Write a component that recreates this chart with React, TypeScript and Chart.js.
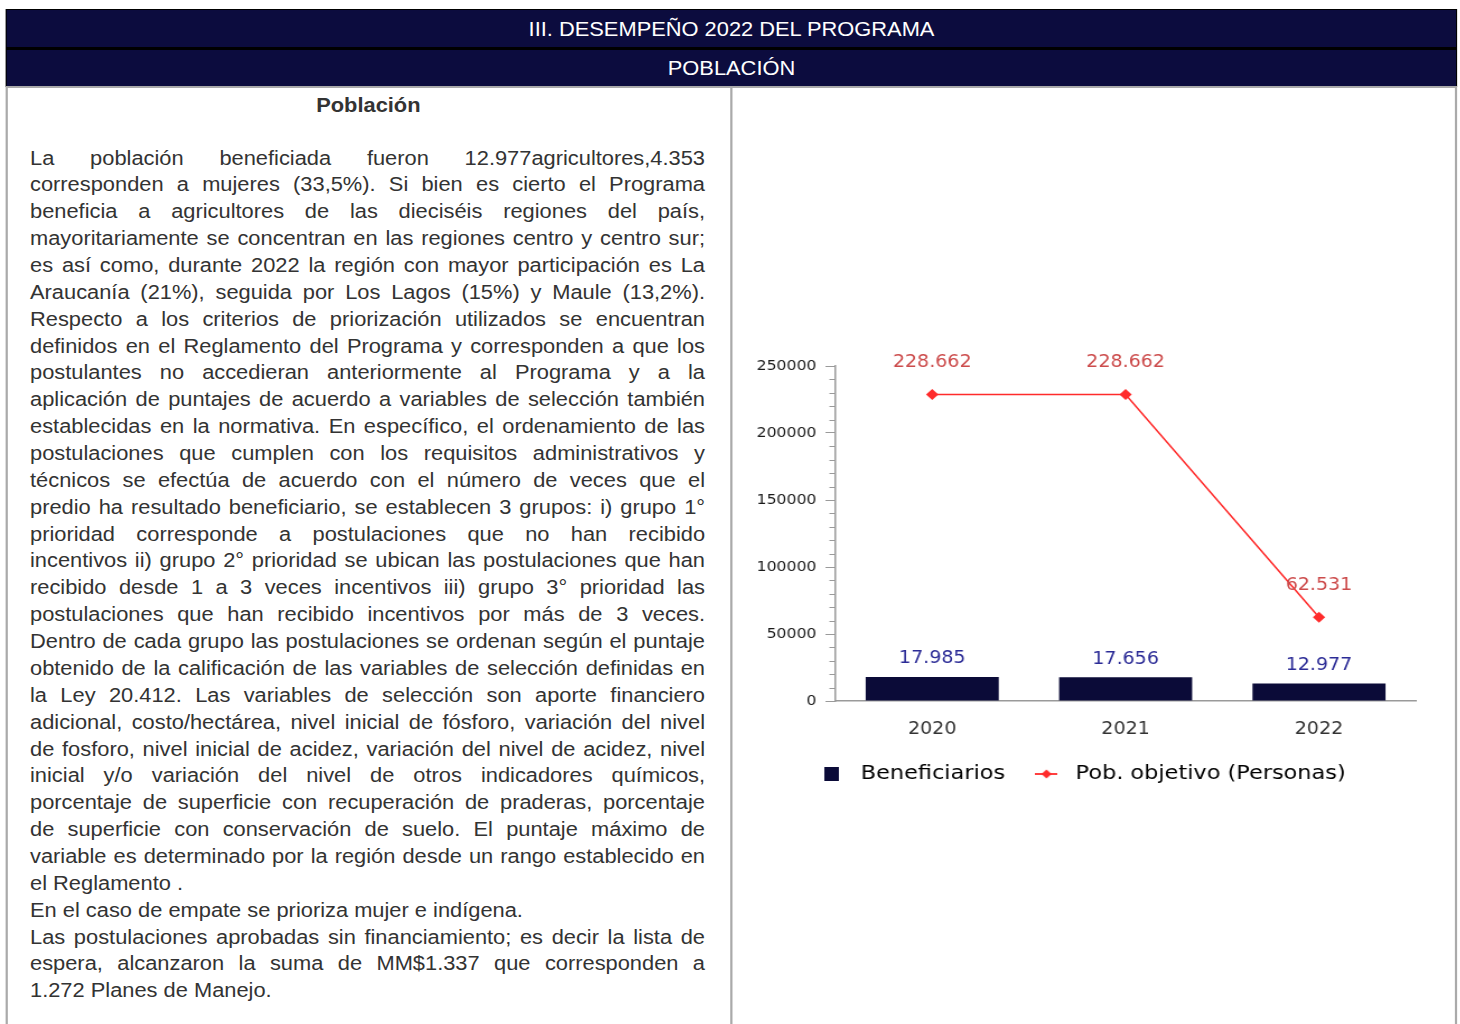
import React, { useEffect, useRef } from 'react';
import { Chart, registerables } from 'chart.js';

Chart.register(...registerables);

// ---------- data ----------
const categories = ['2020', '2021', '2022'];
const seriesNames = ['Beneficiarios', 'Pob. objetivo (Personas)'];
const beneficiarios = [17985, 17656, 12977];
const pobObjetivo = [228662, 228662, 62531];
const yMax = 250000;
const yMajorStep = 50000;
const yMinorStep = 10000;

const headerTitle = 'III. DESEMPEÑO 2022 DEL PROGRAMA';
const headerSub = 'POBLACIÓN';
const sectionTitle = 'Población';

const paragraphs: string[][] = [
  [
    'La población beneficiada fueron 12.977agricultores,4.353',
    'corresponden a mujeres (33,5%). Si bien es cierto el Programa',
    'beneficia a agricultores de las dieciséis regiones del país,',
    'mayoritariamente se concentran en las regiones centro y centro sur;',
    'es así como, durante 2022 la región con mayor participación es La',
    'Araucanía (21%), seguida por Los Lagos (15%) y Maule (13,2%).',
    'Respecto a los criterios de priorización utilizados se encuentran',
    'definidos en el Reglamento del Programa y corresponden a que los',
    'postulantes no accedieran anteriormente al Programa y a la',
    'aplicación de puntajes de acuerdo a variables de selección también',
    'establecidas en la normativa. En específico, el ordenamiento de las',
    'postulaciones que cumplen con los requisitos administrativos y',
    'técnicos se efectúa de acuerdo con el número de veces que el',
    'predio ha resultado beneficiario, se establecen 3 grupos: i) grupo 1°',
    'prioridad corresponde a postulaciones que no han recibido',
    'incentivos ii) grupo 2° prioridad se ubican las postulaciones que han',
    'recibido desde 1 a 3 veces incentivos iii) grupo 3° prioridad las',
    'postulaciones que han recibido incentivos por más de 3 veces.',
    'Dentro de cada grupo las postulaciones se ordenan según el puntaje',
    'obtenido de la calificación de las variables de selección definidas en',
    'la Ley 20.412. Las variables de selección son aporte financiero',
    'adicional, costo/hectárea, nivel inicial de fósforo, variación del nivel',
    'de fosforo, nivel inicial de acidez, variación del nivel de acidez, nivel',
    'inicial y/o variación del nivel de otros indicadores químicos,',
    'porcentaje de superficie con recuperación de praderas, porcentaje',
    'de superficie con conservación de suelo. El puntaje máximo de',
    'variable es determinado por la región desde un rango establecido en',
    'el Reglamento .',
  ],
  ['En el caso de empate se prioriza mujer e indígena.'],
  [
    'Las postulaciones aprobadas sin financiamiento; es decir la lista de',
    'espera, alcanzaron la suma de MM$1.337 que corresponden a',
    '1.272 Planes de Manejo.',
  ],
];

// ---------- styles ----------
const NAVY = '#0c0c3e';
const BAR_COLOR = '#0b0b38';
const LINE_COLOR = '#ff2b2b';
const LINE_LABEL_COLOR = '#cc4b4b';
const BAR_LABEL_COLOR = '#2b2b96';
const AXIS_COLOR = '#9a9a9a';
const CHART_FONT = '"DejaVu Sans", sans-serif';
const SX = 1.12;

const fmt = (v: number) => String(v).replace(/\B(?=(\d{3})+(?!\d))/g, '.');

function makeBoxIcon() {
  const c = document.createElement('canvas');
  c.width = 13;
  c.height = 14;
  const g = c.getContext('2d')!;
  g.fillStyle = BAR_COLOR;
  g.fillRect(0, 0, 13, 14);
  return c;
}

function makeLineIcon() {
  const c = document.createElement('canvas');
  c.width = 20;
  c.height = 12;
  const g = c.getContext('2d')!;
  g.strokeStyle = LINE_COLOR;
  g.fillStyle = LINE_COLOR;
  g.lineWidth = 1.8;
  g.beginPath();
  g.moveTo(0, 6);
  g.lineTo(20, 6);
  g.stroke();
  g.beginPath();
  g.moveTo(10, 1.5);
  g.lineTo(14.5, 6);
  g.lineTo(10, 10.5);
  g.lineTo(5.5, 6);
  g.closePath();
  g.fill();
  return c;
}

const valueLabelsPlugin = {
  id: 'valueLabels',
  afterDatasetsDraw(chart: any) {
    const ctx = chart.ctx;
    const colors = [BAR_LABEL_COLOR, LINE_LABEL_COLOR];
    const offsets = [18, 32];
    chart.data.datasets.forEach((ds: any, di: number) => {
      const meta = chart.getDatasetMeta(di);
      meta.data.forEach((el: any, i: number) => {
        const v = ds.data[i];
        const { x, y } = el.getProps(['x', 'y'], true);
        ctx.save();
        ctx.font = `17px ${CHART_FONT}`;
        ctx.fillStyle = colors[di];
        ctx.textAlign = 'center';
        ctx.textBaseline = 'middle';
        ctx.fillText(fmt(v), x, y - offsets[di]);
        ctx.restore();
      });
    });
  },
};

const minorTicksPlugin = {
  id: 'minorTicks',
  afterDraw(chart: any) {
    const ys = chart.scales.y;
    const ctx = chart.ctx;
    ctx.save();
    ctx.strokeStyle = AXIS_COLOR;
    ctx.lineWidth = 1;
    for (let v = 0; v <= yMax; v += yMinorStep) {
      if (v % yMajorStep === 0) continue;
      const py = Math.round(ys.getPixelForValue(v)) + 0.5;
      ctx.beginPath();
      ctx.moveTo(ys.right - 5.5, py);
      ctx.lineTo(ys.right, py);
      ctx.stroke();
    }
    ctx.restore();
  },
};

function PopChart() {
  const ref = useRef<HTMLCanvasElement>(null);
  useEffect(() => {
    if (!ref.current) return;
    const icons = [makeBoxIcon(), makeLineIcon()];
    const chart = new Chart(ref.current, {
      type: 'bar',
      data: {
        labels: categories,
        datasets: [
          {
            type: 'bar',
            label: seriesNames[0],
            data: beneficiarios,
            backgroundColor: BAR_COLOR,
            barPercentage: 0.688,
            categoryPercentage: 1,
          },
          {
            type: 'line',
            label: seriesNames[1],
            data: pobObjetivo,
            borderColor: LINE_COLOR,
            backgroundColor: LINE_COLOR,
            borderWidth: 1.5,
            pointStyle: 'rectRot',
            pointRadius: 5.5,
            pointBorderWidth: 0,
            pointBackgroundColor: LINE_COLOR,
            tension: 0,
          },
        ],
      } as any,
      options: {
        responsive: false,
        animation: false,
        devicePixelRatio: 1,
        layout: { padding: { top: 34, left: 4, right: 26, bottom: 0 } },
        plugins: {
          tooltip: { enabled: false },
          legend: {
            position: 'bottom',
            labels: {
              usePointStyle: true,
              pointStyleWidth: 32,
              padding: 21,
              color: '#333',
              font: { family: CHART_FONT, size: 20 },
              generateLabels: () =>
                seriesNames.map((n, i) => ({
                  text: n,
                  pointStyle: icons[i],
                  fillStyle: i === 0 ? BAR_COLOR : LINE_COLOR,
                  strokeStyle: 'transparent',
                  lineWidth: 0,
                  hidden: false,
                  datasetIndex: i,
                })),
            },
          },
        },
        scales: {
          x: {
            grid: { display: false, drawTicks: false },
            border: { display: true, color: AXIS_COLOR, width: 1.5 },
            ticks: { color: '#333', padding: 18, font: { family: CHART_FONT, size: 17 } },
            afterFit: (s: any) => {
              s.height = 42;
            },
          },
          y: {
            min: 0,
            max: yMax,
            grid: {
              display: true,
              drawOnChartArea: false,
              drawTicks: true,
              tickLength: 9,
              color: (c: any) => (c.tick && c.tick.value % yMajorStep === 0 ? AXIS_COLOR : 'transparent'),
            },
            border: { display: true, color: AXIS_COLOR, width: 1.5 },
            ticks: {
              stepSize: yMinorStep,
              autoSkip: false,
              padding: 8,
              color: '#1a1a1a',
              font: { family: CHART_FONT, size: 14 },
              callback: (v: any) => (Number(v) % yMajorStep === 0 ? String(v) : ''),
            },
            afterFit: (s: any) => {
              s.width = 82;
            },
          },
        },
      } as any,
      plugins: [valueLabelsPlugin, minorTicksPlugin],
    });
    return () => chart.destroy();
  }, []);
  return (
    <canvas
      ref={ref}
      width={630}
      height={462}
      style={{ position: 'absolute', left: 660, top: 332, width: 630, height: 462 }}
    />
  );
}

export default function App() {
  useEffect(() => {
    document.body.style.margin = '0';
    document.body.style.overflow = 'hidden';
  }, []);
  const lineH = 26.87;
  return (
    <div
      style={{
        position: 'absolute',
        left: 0,
        top: 0,
        width: 1303,
        height: 1024,
        overflow: 'hidden',
        transform: `scaleX(${SX})`,
        transformOrigin: '0 0',
        fontFamily: '"Liberation Sans", Arial, sans-serif',
        background: '#fff',
      }}
    >
      {/* header bands */}
      <div style={{ position: 'absolute', left: 5.4, top: 9, width: 1295.5, height: 78, background: '#000' }} />
      <div
        style={{
          position: 'absolute',
          left: 6.4,
          top: 10,
          width: 1293.5,
          height: 37,
          background: NAVY,
          color: '#fff',
          fontSize: 19.5,
          lineHeight: '38px',
          textAlign: 'center',
        }}
      >
        {headerTitle}
      </div>
      <div
        style={{
          position: 'absolute',
          left: 6.4,
          top: 50,
          width: 1293.5,
          height: 36,
          background: NAVY,
          color: '#fff',
          fontSize: 19.5,
          lineHeight: '36px',
          textAlign: 'center',
        }}
      >
        {headerSub}
      </div>
      {/* content cell borders */}
      <div
        style={{
          position: 'absolute',
          left: 5.4,
          top: 86,
          width: 1295.5,
          height: 950,
          boxSizing: 'border-box',
          border: '2px solid #aaa',
        }}
      />
      <div style={{ position: 'absolute', left: 652, top: 86, width: 1.8, height: 950, background: '#aaa' }} />
      {/* section title */}
      <div
        style={{
          position: 'absolute',
          left: 5.4,
          width: 647,
          top: 92,
          height: 26,
          lineHeight: '26px',
          textAlign: 'center',
          fontWeight: 'bold',
          fontSize: 19.5,
          color: '#333',
        }}
      >
        {sectionTitle}
      </div>
      {/* body text */}
      <div style={{ position: 'absolute', left: 26.8, top: 144.6, width: 602.7, fontSize: 19.5, color: '#333' }}>
        {paragraphs.map((p, pi) =>
          p.map((line, li) => {
            const last = li === p.length - 1;
            return (
              <div
                key={`${pi}-${li}`}
                style={{
                  height: lineH,
                  lineHeight: `${lineH}px`,
                  textAlign: last ? 'left' : 'justify',
                  textAlignLast: last ? 'left' : 'justify',
                }}
              >
                {line}
              </div>
            );
          })
        )}
      </div>
      <PopChart />
    </div>
  );
}
